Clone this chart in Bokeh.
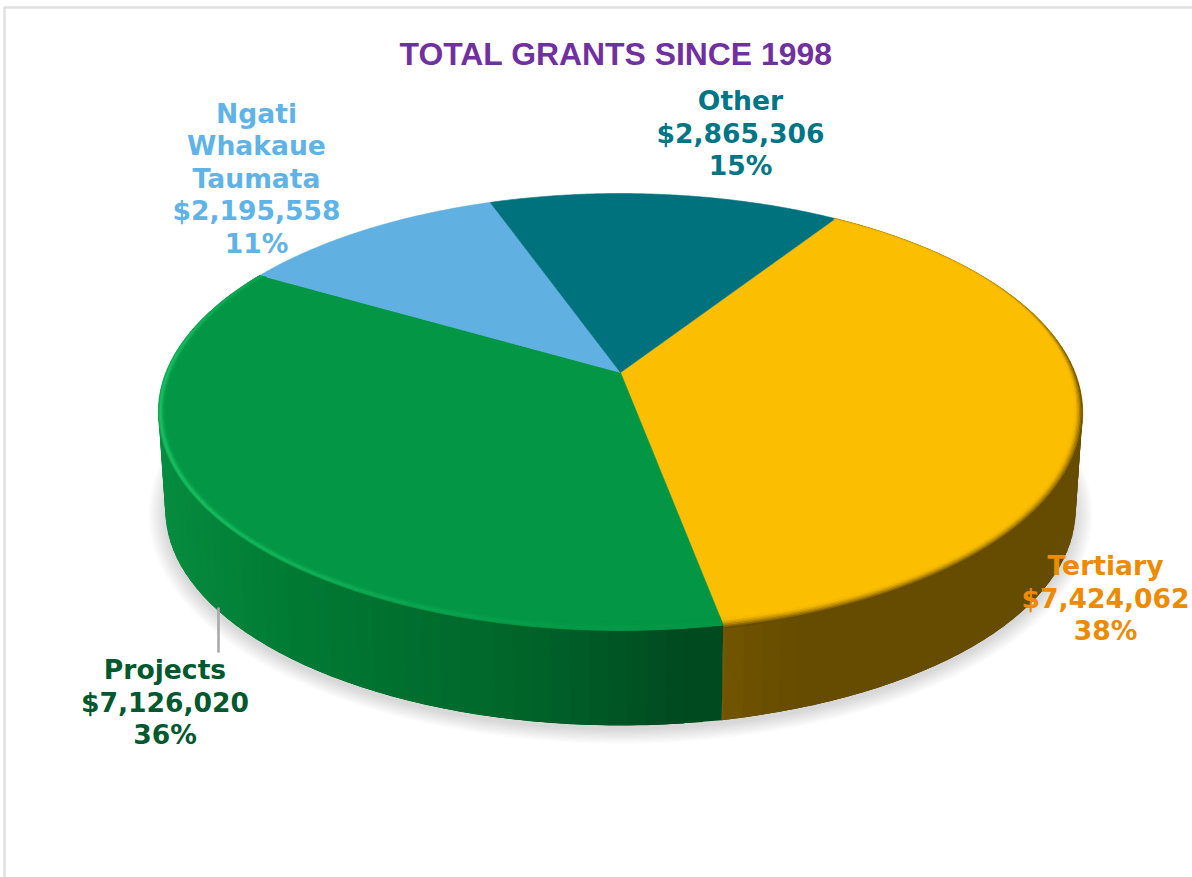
import numpy as np
from bokeh.core.properties import value
from bokeh.embed import file_html
from bokeh.models import ColumnDataSource, Range1d
from bokeh.plotting import figure
from bokeh.resources import INLINE

# Grant totals
names = ["Tertiary", "Projects", "Ngati Whakaue Taumata", "Other"]
amounts = [7424062, 7126020, 2195558, 2865306]
name_lines = [["Tertiary"], ["Projects"], ["Ngati", "Whakaue", "Taumata"], ["Other"]]
title_text = "TOTAL GRANTS SINCE 1998"

# Slice styling
top_colors = ["#FCBE00", "#039645", "#60B0E2", "#00727E"]
label_colors = ["#EE8A00", "#00582E", "#60B3E6", "#007585"]
label_x = [1105, 164.5, 256, 740]
label_first_y = [565, 669, 112.5, 100]
line_step = 32.5
side_stops = {
    0: ([722, 760, 810, 1080], ["#775700", "#6D5100", "#664C00", "#664C00"]),
    1: ([160, 300, 400, 500, 600, 690, 722], ["#068C3F", "#007A33", "#00702F", "#00682B", "#005A26", "#004A20", "#004A20"]),
}

# Perspective disc: a unit circle projected so that its centre sits above the ellipse middle
CX, CY = 620.0, 372.0
SCALE_X, SCALE_Y, TILT = 454.5, 211.3, 0.1807
BOTTOM_CY = 471.0
BOTTOM_SCALE = 0.985
START_DEG = 33.0


def project(theta_deg, radius=1.0, cy=CY, scale=1.0):
    th = np.radians(theta_deg)
    u, v = radius * np.sin(th), radius * np.cos(th)
    w = 1 + TILT * v
    return CX + scale * SCALE_X * u / w, cy - scale * SCALE_Y * v / w


def inset(theta_deg, px):
    """Rim point moved px pixels towards the disc centre (outwards when negative)."""
    x, y = project(theta_deg)
    d = np.hypot(x - CX, y - CY)
    return project(theta_deg, 1 - px / d)


def to_rgb(h):
    return np.array([int(h[i:i + 2], 16) for i in (1, 3, 5)], dtype=float)


def to_hex(c):
    return "#%02X%02X%02X" % tuple(int(round(min(max(k, 0), 255))) for k in c)


def mix(a, b, t):
    return to_hex(to_rgb(a) * (1 - t) + to_rgb(b) * t)


def smooth(a, b, x):
    t = min(max((x - a) / (b - a), 0), 1)
    return t * t * (3 - 2 * t)


total = sum(amounts)
edges = START_DEG + np.concatenate([[0], np.cumsum(amounts)]) / total * 360

p = figure(width=1192, height=877, output_backend="svg", toolbar_location=None,
           x_range=Range1d(0, 1192), y_range=Range1d(877, 0), min_border=0,
           x_axis_type=None, y_axis_type=None, outline_line_color=None,
           background_fill_color="white", border_fill_color="white")
p.xgrid.visible = False
p.ygrid.visible = False

# Page frame
p.line([4, 4, 1192], [877, 7, 7], line_color="#E0E0E0", line_width=2.5)

# Soft shadow under the disc
ring = np.linspace(0, 360, 241)
bx, by = project(ring, cy=BOTTOM_CY, scale=BOTTOM_SCALE)
mx, my = CX, by.min() / 2 + by.max() / 2
for spread in np.arange(17, 0, -1.4):
    sx = mx + (bx - mx) * (1 + spread / 456)
    sy = my + (by - my) * (1 + spread / 256) + 4
    p.patch(sx, sy, fill_color="#50555A", fill_alpha=0.016, line_color=None)

# Side wall: each band runs on under the next one so that no seams show
xs, ys, colors = [], [], []
for i, (xp, cp) in side_stops.items():
    rgb = np.array([to_rgb(c) for c in cp])
    steps = np.arange(edges[i], edges[i + 1], 2.0)
    for a in steps:
        b = min(a + 6.0, edges[i + 1])
        x0, y0 = project(a)
        x1, y1 = project(b)
        x2, y2 = project(b, cy=BOTTOM_CY, scale=BOTTOM_SCALE)
        x3, y3 = project(a, cy=BOTTOM_CY, scale=BOTTOM_SCALE)
        xs.append([x0, x1, x2, x3])
        ys.append([y0, y1, y2, y3])
        colors.append(to_hex([np.interp(x0, xp, rgb[:, k]) for k in range(3)]))
p.patches(xs, ys, fill_color=colors, line_color=None)

# Top faces
for i, color in enumerate(top_colors):
    th = np.linspace(edges[i], edges[i + 1], 120)
    x, y = project(th)
    p.patch(np.r_[CX, x], np.r_[CY, y], fill_color=color, line_color=color, line_width=0.6)

# Bevel along the rim of the two large slices
bands = [0, 1.2, 2.4, 3.6, 4.8, 6.0, 7.5]
xs, ys, colors = [], [], []
for a in np.arange(edges[0], edges[1], 2.0):
    b = min(a + 2.0, edges[1])
    m = (a + b) / 2
    width = 0.28 + 0.9 * smooth(55, 110, m)
    strength = 0.55 + 0.45 * smooth(55, 100, m)
    shift = -3.0 * smooth(95, 140, m)
    for j in range(len(bands) - 1):
        d0, d1 = bands[j] * width + shift, bands[j + 1] * width + shift
        q0, q1 = inset(a, d0), inset(b, d0)
        q2, q3 = inset(b, d1), inset(a, d1)
        xs.append([q0[0], q1[0], q2[0], q3[0]])
        ys.append([q0[1], q1[1], q2[1], q3[1]])
        colors.append(mix(top_colors[0], "#664C00", strength * (1 - j / 5.5) ** 1.4))

profile = [0.55, 1.0, 0.85, 0.5, 0.22, 0.07]
for a in np.arange(edges[1], edges[2], 2.0):
    b = min(a + 2.0, edges[2])
    m = (a + b) / 2
    strength = (0.05 + 0.95 * smooth(172, 245, m)) * (1 - 0.55 * smooth(270, 300, m))
    for j in range(len(bands) - 1):
        q0, q1 = inset(a, bands[j]), inset(b, bands[j])
        q2, q3 = inset(b, bands[j + 1]), inset(a, bands[j + 1])
        xs.append([q0[0], q1[0], q2[0], q3[0]])
        ys.append([q0[1], q1[1], q2[1], q3[1]])
        colors.append(mix(top_colors[1], "#1CC064", strength * profile[j]))
p.patches(xs, ys, fill_color=colors, line_color=colors, line_width=0.5)

# Leader from the Projects label up to the wall
p.line([218, 218], [607, 652], line_color="#A9A9A9", line_width=2.6)

# Slice labels, one text row per line
tx, ty, tt, tc = [], [], [], []
for i, lines in enumerate(name_lines):
    rows = lines + ["${:,}".format(amounts[i]), "{:.0f}%".format(amounts[i] / total * 100)]
    for r, row in enumerate(rows):
        tx.append(label_x[i])
        ty.append(label_first_y[i] + r * line_step)
        tt.append(row)
        tc.append(label_colors[i])
p.text(x="x", y="y", text="text", text_color="color",
       source=ColumnDataSource(dict(x=tx, y=ty, text=tt, color=tc)),
       text_font=value("DejaVu Sans"), text_font_style="bold", text_font_size="26.6px",
       text_align="center", text_baseline="middle")

p.text(x=[615.5], y=[53], text=[title_text], text_color="#7030A0",
       text_font=value("Liberation Sans"), text_font_style="bold", text_font_size="31.9px",
       text_align="center", text_baseline="middle")

open("out.html", "w").write(file_html(p, INLINE))
